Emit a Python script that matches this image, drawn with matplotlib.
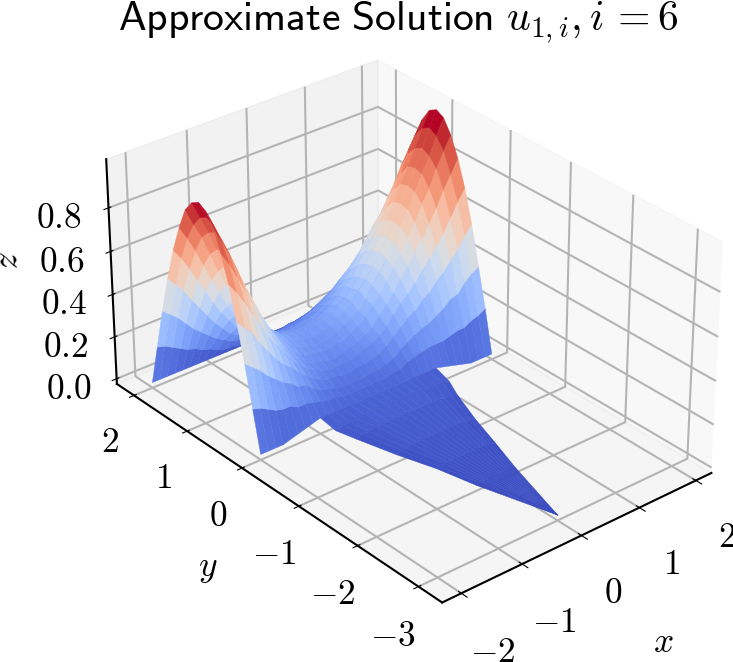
import numpy as np
import matplotlib
matplotlib.use("Agg")
import matplotlib.pyplot as plt
from matplotlib.ticker import FuncFormatter

plt.rcParams['mathtext.fontset'] = 'cm'
plt.rcParams['font.family'] = ['DejaVu Sans']

# values
x_vals = [-2, -1.875, -1.75, -1.625, -1.5, -1.375, -1.25, -1.125, -1, -0.875, -0.75, -0.625, -0.5, -0.375, -0.25, -0.125, 0,
          0.125, 0.25, 0.375, 0.5, 0.625, 0.75, 0.875, 1, 1.125, 1.25, 1.375, 1.5, 1.625, 1.75, 1.875, 2]
y_vals = [0, 0.125, 0.25, 0.375, 0.5, 0.625, 0.75, 0.875, 1, 1.125, 1.25, 1.375, 1.5, 1.625, 1.75, 1.875, 2]
z_rect = [
    [0, 0, 0, 0, .01, .02, .03, .04, .05, .05, .05, .05, .05, .05, .05, .05, .05, .05, .05, .05, .05, .05, .05, .05, .05, .04, .03, .02, .01, 0, 0, 0, 0],
    [.19, .18, .16, .14, .13, .13, .11, .11, .10, .09, .08, .08, .07, .07, .07, .07, .07, .07, .07, .08, .08, .10, .11, .12, .13, .13, .13, .14, .15, .15, .17, .18, .20],
    [.38, .35, .32, .28, .25, .22, .20, .17, .16, .13, .11, .10, .09, .08, .08, .08, .08, .09, .09, .10, .11, .14, .16, .18, .20, .21, .23, .25, .28, .29, .33, .36, .38],
    [.55, .51, .47, .41, .36, .31, .27, .24, .20, .17, .14, .12, .11, .11, .10, .10, .11, .11, .12, .13, .15, .18, .21, .24, .26, .30, .32, .36, .39, .43, .47, .52, .56],
    [.70, .65, .59, .52, .46, .39, .34, .29, .24, .20, .17, .15, .13, .12, .12, .12, .12, .13, .15, .16, .18, .21, .25, .29, .32, .36, .41, .45, .49, .54, .60, .66, .71],
    [.82, .76, .69, .61, .53, .46, .38, .32, .27, .22, .19, .16, .15, .14, .13, .13, .14, .15, .16, .18, .20, .24, .28, .32, .37, .42, .47, .52, .58, .64, .71, .77, .83],
    [.92, .84, .77, .68, .59, .51, .43, .36, .30, .25, .21, .18, .16, .16, .15, .15, .16, .16, .18, .20, .23, .27, .31, .36, .41, .46, .52, .58, .65, .71, .79, .86, .92],
    [.97, .89, .81, .72, .63, .54, .45, .38, .32, .26, .23, .20, .18, .17, .16, .16, .17, .18, .20, .22, .24, .28, .33, .38, .43, .49, .55, .62, .69, .76, .83, .91, .98],
    [.99, .91, .83, .73, .64, .55, .46, .39, .33, .27, .24, .21, .19, .18, .17, .17, .18, .19, .21, .23, .26, .30, .34, .39, .44, .50, .56, .63, .70, .77, .85, .93, 1.0],
    [.97, .89, .81, .72, .63, .54, .45, .38, .32, .27, .25, .22, .20, .19, .18, .18, .19, .20, .22, .24, .26, .29, .33, .38, .43, .49, .55, .62, .69, .76, .83, .91, .98],
    [.92, .84, .77, .68, .59, .51, .43, .36, .30, .26, .23, .20, .18, .18, .17, .17, .18, .18, .20, .22, .25, .28, .31, .36, .41, .46, .52, .58, .65, .71, .79, .86, .92],
    [.82, .76, .69, .61, .53, .46, .38, .32, .27, .23, .21, .18, .17, .16, .15, .15, .16, .17, .18, .20, .22, .25, .28, .32, .37, .42, .47, .52, .58, .64, .71, .77, .83],
    [.70, .65, .59, .52, .46, .39, .33, .28, .23, .20, .18, .16, .14, .13, .13, .13, .13, .14, .16, .17, .19, .21, .24, .28, .31, .35, .40, .45, .49, .54, .60, .66, .71],
    [.55, .51, .47, .41, .36, .31, .26, .22, .18, .16, .14, .12, .11, .11, .10, .10, .11, .11, .12, .13, .15, .17, .19, .22, .24, .28, .31, .35, .39, .43, .47, .52, .56],
    [.38, .35, .32, .28, .24, .21, .18, .15, .13, .11, .10, .08, .08, .07, .07, .07, .07, .08, .08, .09, .10, .11, .13, .15, .17, .19, .21, .24, .27, .29, .33, .36, .38],
    [.19, .18, .16, .14, .12, .11, .09, .08, .06, .05, .05, .04, .04, .04, .04, .04, .04, .04, .04, .05, .05, .06, .07, .08, .09, .10, .11, .12, .14, .15, .17, .18, .20],
    [0] * 33,
]
# tail below y=0: rows narrow down to the tip
tail_y = [0, -0.25, -0.5, -1, -1.5, -2, -2.5, -3]
tail_halfwidth = [1, 0.98, 0.87, 0.68, 0.5, 0.333, 0.167, 0]
z_tail = [
    [.05] * 17,
    [.03, .04, .04, .04, .05, .05, .05, .05, .05, .05, .05, .05, .05, .04, .04, .04, .03],
    [.02, .03, .03, .04, .04, .04, .04, .04, .04, .04, .04, .04, .04, .04, .03, .03, .02],
    [.01, .02, .02, .03, .03, .03, .03, .03, .03, .03, .03, .03, .03, .03, .02, .02, .01],
    [.01, .01, .02, .02, .02, .02, .02, .02, .02, .02, .02, .02, .02, .02, .02, .01, .01],
    [0, .01, .01, .01, .01, .01, .01, .01, .01, .01, .01, .01, .01, .01, .01, .01, 0],
    [0, 0, 0, .01, .01, .01, .01, .01, .01, .01, .01, .01, .01, .01, 0, 0, 0],
    [0] * 17,
]

fig = plt.figure(figsize=(7.33, 6.62), dpi=100)
ax = fig.add_axes([0.0445, 0.0096, 1.0, 1.0], projection='3d')
ax.view_init(elev=30, azim=230)
ax.set_box_aspect((4.0, 5.9, 2.98))

X, Y = np.meshgrid(x_vals, y_vals)
surf = ax.plot_surface(X, Y, np.array(z_rect), cmap='coolwarm', vmin=0, vmax=0.95, rstride=1, cstride=1,
                       linewidth=0.3, antialiased=True)
surf.set_edgecolor('face')
# the tail uses the columns with |x| <= 1
x_mid = np.array(x_vals[8:25])
X2 = np.outer(tail_halfwidth, x_mid)
Y2 = np.outer(tail_y, np.ones(len(x_mid)))
tail = ax.plot_surface(X2, Y2, np.array(z_tail), cmap='coolwarm', vmin=0, vmax=0.95, rstride=1, cstride=1,
                       linewidth=0.3, antialiased=True)
tail.set_edgecolor('face')

ax.set_xlim(-2.31, 2.28)
ax.set_ylim(-3.38, 2.33)
ax.set_zlim(-0.025, 1.02)
ax.set_xticks([-2, -1, 0, 1, 2])
ax.set_yticks([-3, -2, -1, 0, 1, 2])
ax.set_zticks([0, 0.2, 0.4, 0.6, 0.8])
ax.xaxis.set_major_formatter(FuncFormatter(lambda v, p: "$%g$" % v))
ax.yaxis.set_major_formatter(FuncFormatter(lambda v, p: "$%g$" % v))
ax.zaxis.set_major_formatter(FuncFormatter(lambda v, p: "$%.1f$" % v))
ax.tick_params(labelsize=25.5, width=1.5, length=6)
ax.tick_params(axis='x', pad=14)
ax.tick_params(axis='y', pad=14)
ax.tick_params(axis='z', pad=13)
ax.set_xlabel("$x$", fontsize=25.5, labelpad=36)
ax.set_ylabel("$y$", fontsize=25.5, labelpad=36)
ax.zaxis.set_rotate_label(True)
ax.set_zlabel("$z$", fontsize=25.5, labelpad=23)
for axis in [ax.xaxis, ax.yaxis, ax.zaxis]:
    axis._axinfo['grid']['linewidth'] = 1.5
    axis._axinfo['grid']['color'] = '#b4b4b4'
    axis.line.set_linewidth(1.5)

fig.text(398/733, 1 - 22/662, r"$\mathsf{Approximate\ Solution}\ u_{1,i},i\,{=}6$", fontsize=30, ha='center', va='center')
fig.savefig("out.png", dpi=100)
